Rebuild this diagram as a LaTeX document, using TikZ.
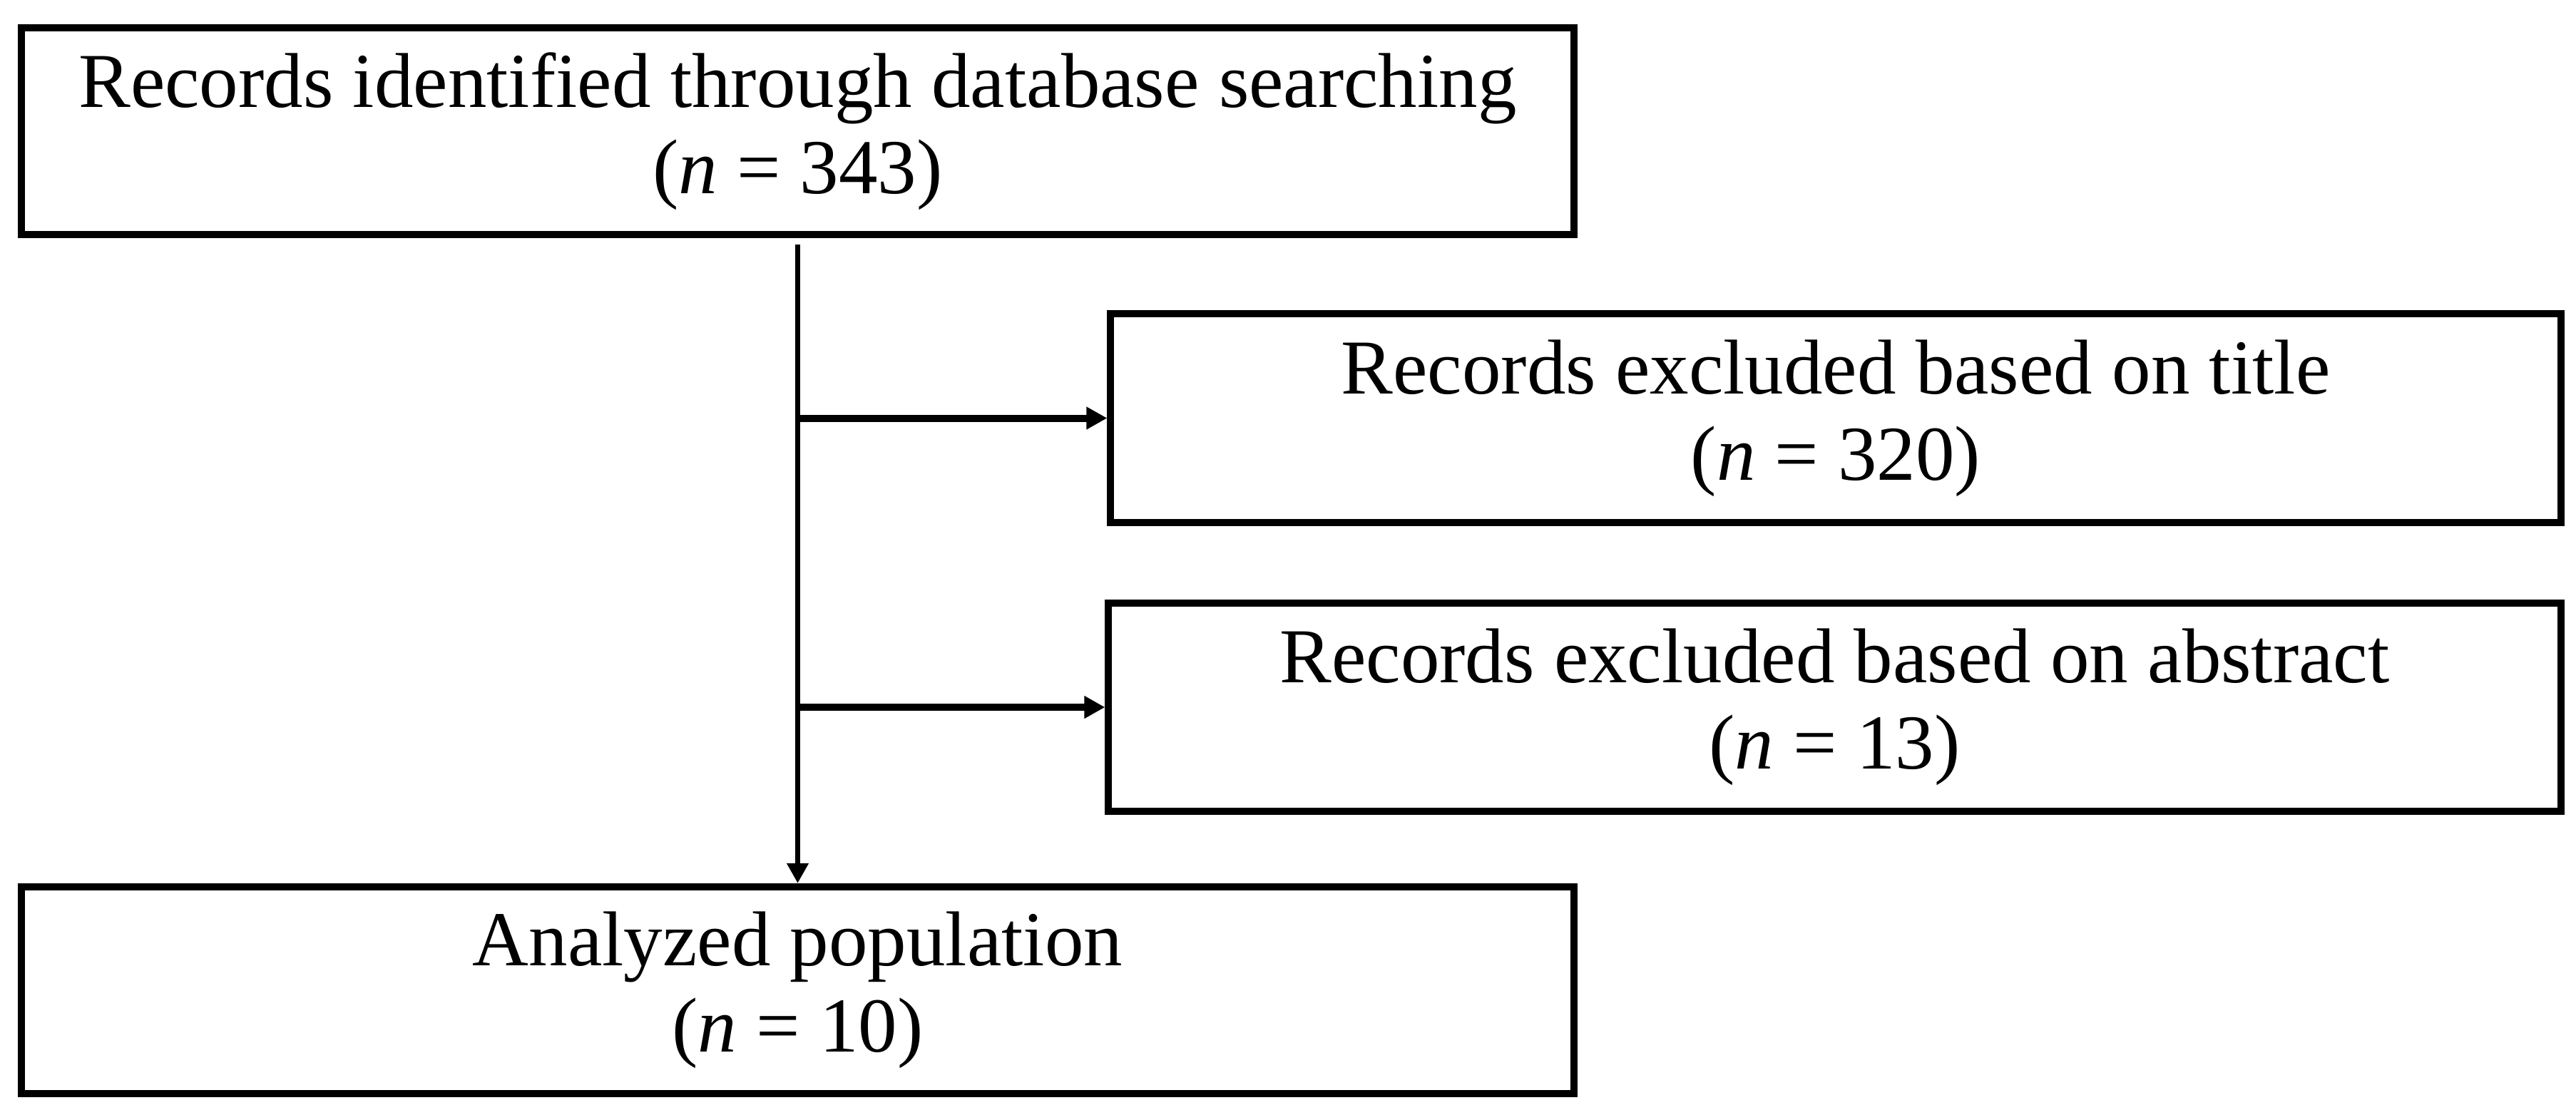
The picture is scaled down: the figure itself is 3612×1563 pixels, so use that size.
\documentclass[tikz,border=0pt]{standalone}
\usepackage{fontspec}
\setmainfont{Liberation Serif}
\usetikzlibrary{arrows.meta}
\tikzset{
  flowbox/.style={draw=black, line width=0.1cm, inner sep=0pt, align=center,
    font=\fontsize{31}{34.5}\selectfont},
  vconn/.style={line width=0.07cm, -{Triangle[length=0.28cm,width=0.29cm]}},
  hconn/.style={line width=0.1cm, -{Triangle[length=0.29cm,width=0.30cm]}}
}
\begin{document}
\begin{tikzpicture}[x=0.01cm,y=-0.01cm]
\useasboundingbox[fill=white] (0,0) rectangle (3612,1563);
\node[flowbox, minimum width=21.75cm, minimum height=2.90cm] (top) at (1118.5,184)
  {Records identified through database searching\\(\textit{n} = 343)};
\node[flowbox, minimum width=20.32cm, minimum height=2.93cm] (ex1) at (2574,586.5)
  {Records excluded based on title\\(\textit{n} = 320)};
\node[flowbox, minimum width=20.35cm, minimum height=2.92cm] (ex2) at (2572.5,992)
  {Records excluded based on abstract\\(\textit{n} = 13)};
\node[flowbox, minimum width=21.75cm, minimum height=2.90cm] (bot) at (1118.5,1389)
  {Analyzed population\\(\textit{n} = 10)};
\coordinate (start) at ([yshift=-0.09cm]top.south);
\draw[vconn] (start) -- (bot.north);
\draw[hconn] (top.south |- ex1.west) -- (ex1.west);
\draw[hconn] (top.south |- ex2.west) -- (ex2.west);
\end{tikzpicture}
\end{document}
